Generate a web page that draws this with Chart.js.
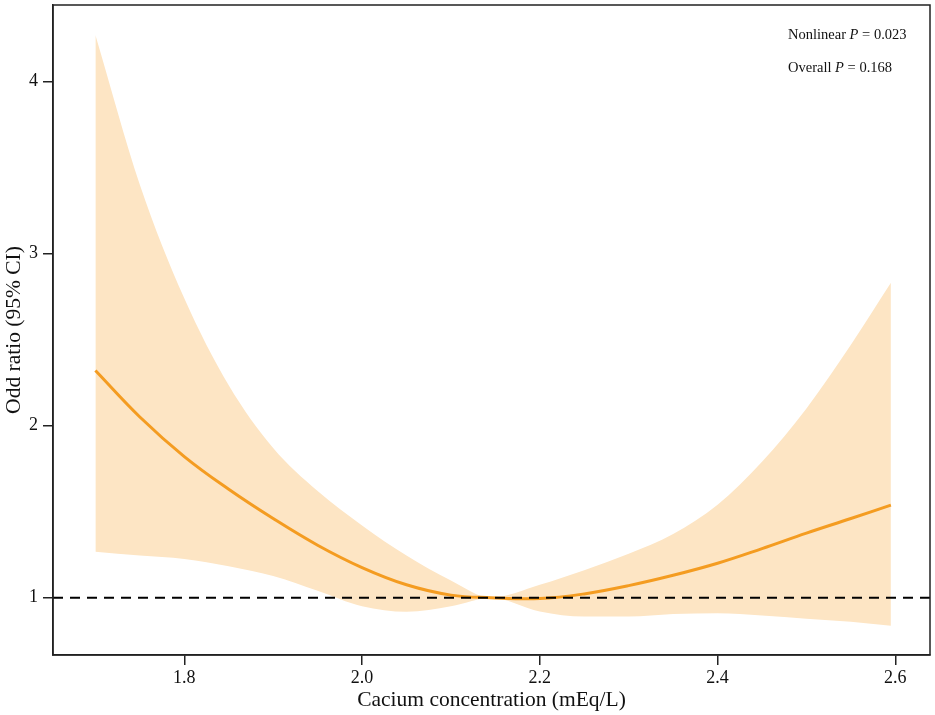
<!DOCTYPE html>
<html>
<head>
<meta charset="utf-8">
<title>Odd ratio vs calcium concentration</title>
<script src="https://cdn.jsdelivr.net/npm/chart.js@4.4.1/dist/chart.umd.min.js"></script>
<style>
  html, body { margin: 0; padding: 0; background: #fff; }
  #wrap { width: 935px; height: 715px; position: relative; }
</style>
</head>
<body>
<div id="wrap"><canvas id="rcsChart"></canvas></div>
<script>
// calcium concentration (mEq/L) sampled along the curve
const concentration = [1.70, 1.75, 1.80, 1.85, 1.90, 1.95, 2.00, 2.05, 2.10, 2.145, 2.20, 2.25, 2.30, 2.35, 2.40, 2.45, 2.50, 2.55, 2.595];
const oddRatio = [2.32, 2.05, 1.82, 1.63, 1.46, 1.305, 1.175, 1.075, 1.015, 1.0, 0.995, 1.022, 1.07, 1.13, 1.20, 1.285, 1.375, 1.46, 1.538];
const ciUpper = [4.27, 3.40, 2.74, 2.235, 1.87, 1.62, 1.42, 1.245, 1.10, 1.0, 1.075, 1.16, 1.255, 1.37, 1.54, 1.79, 2.10, 2.47, 2.83];
const ciLower = [1.267, 1.245, 1.225, 1.183, 1.126, 1.04, 0.95, 0.918, 0.95, 1.0, 0.92, 0.89, 0.89, 0.905, 0.91, 0.897, 0.878, 0.86, 0.837];

const xRange = [1.6523, 2.639];
const yRange = [0.667, 4.444];
const xTicks = [1.8, 2.0, 2.2, 2.4, 2.6];
const yTicks = [1, 2, 3, 4];
const refLine = [1, 1];

const pValues = [
    ['Nonlinear ', 'P', ' = 0.023'],
    ['Overall ', 'P', ' = 0.168']
];

const serif = "'Liberation Serif', 'Times New Roman', serif";

function toPoints(xs, ys) {
    return xs.map((x, i) => ({ x: x, y: ys[i] }));
}

// frame around the plotting area plus the P-value notes
const framePlugin = {
    id: 'frame',
    afterDraw(chart) {
        const { ctx, chartArea: a } = chart;
        ctx.save();
        ctx.strokeStyle = '#222';
        ctx.lineWidth = 1.5;
        ctx.strokeRect(a.left, a.top, a.right - a.left, a.bottom - a.top);

        ctx.fillStyle = '#111';
        ctx.textBaseline = 'alphabetic';
        pValues.forEach((parts, row) => {
            let x = 788;
            const y = 39 + row * 33;
            parts.forEach((txt, k) => {
                ctx.font = (k === 1 ? 'italic ' : '') + '14.5px ' + serif;
                ctx.fillText(txt, x, y);
                x += ctx.measureText(txt).width;
            });
        });
        ctx.restore();
    }
};

const ctx = document.getElementById('rcsChart').getContext('2d');
new Chart(ctx, {
    type: 'line',
    data: {
        datasets: [
            {
                label: 'reference',
                data: toPoints(xRange, refLine),
                borderColor: '#000',
                borderWidth: 2,
                borderDash: [10, 7],
                pointRadius: 0,
                fill: false,
                order: 0
            },
            {
                label: 'OR',
                data: toPoints(concentration, oddRatio),
                borderColor: '#F49C21',
                borderWidth: 3,
                pointRadius: 0,
                tension: 0.4,
                fill: false,
                order: 1
            },
            {
                label: 'upper',
                data: toPoints(concentration, ciUpper),
                borderColor: 'rgba(0,0,0,0)',
                borderWidth: 0,
                backgroundColor: '#FDE5C4',
                pointRadius: 0,
                cubicInterpolationMode: 'monotone',
                fill: '+1',
                order: 2
            },
            {
                label: 'lower',
                data: toPoints(concentration, ciLower),
                borderColor: 'rgba(0,0,0,0)',
                borderWidth: 0,
                pointRadius: 0,
                cubicInterpolationMode: 'monotone',
                fill: false,
                order: 3
            }
        ]
    },
    options: {
        responsive: true,
        maintainAspectRatio: false,
        animation: false,
        layout: {
            padding: { top: 5, right: 5, left: 0, bottom: 0 }
        },
        plugins: {
            legend: { display: false },
            tooltip: { enabled: false }
        },
        scales: {
            x: {
                type: 'linear',
                min: xRange[0],
                max: xRange[1],
                afterBuildTicks: (axis) => {
                    axis.ticks = xTicks.map(v => ({ value: v }));
                },
                afterFit: (axis) => {
                    axis.height = 60;
                    axis.paddingLeft = 0;
                    axis.paddingRight = 0;
                },
                grid: {
                    drawOnChartArea: false,
                    drawTicks: true,
                    tickLength: 10,
                    color: '#222',
                    lineWidth: 1.5
                },
                border: { display: true, color: '#222', width: 1.5 },
                ticks: {
                    color: '#111',
                    padding: 2,
                    maxRotation: 0,
                    font: { family: serif, size: 18 },
                    callback: (v) => v.toFixed(1)
                },
                title: {
                    display: true,
                    text: 'Cacium concentration (mEq/L)',
                    color: '#111',
                    font: { family: serif, size: 21.5 },
                    padding: { top: 0, bottom: 2 }
                }
            },
            y: {
                type: 'linear',
                min: yRange[0],
                max: yRange[1],
                afterBuildTicks: (axis) => {
                    axis.ticks = yTicks.map(v => ({ value: v }));
                },
                afterFit: (axis) => {
                    axis.width = 53;
                    axis.paddingTop = 0;
                    axis.paddingBottom = 0;
                },
                grid: {
                    drawOnChartArea: false,
                    drawTicks: true,
                    tickLength: 10,
                    color: '#222',
                    lineWidth: 1.5
                },
                border: { display: true, color: '#222', width: 1.5 },
                ticks: {
                    color: '#111',
                    padding: 5,
                    font: { family: serif, size: 18 },
                    callback: (v) => String(v)
                },
                title: {
                    display: true,
                    text: 'Odd ratio (95% CI)',
                    color: '#111',
                    font: { family: serif, size: 21.5 },
                    padding: { top: 1, bottom: 0 }
                }
            }
        }
    },
    plugins: [framePlugin]
});
</script>
</body>
</html>
